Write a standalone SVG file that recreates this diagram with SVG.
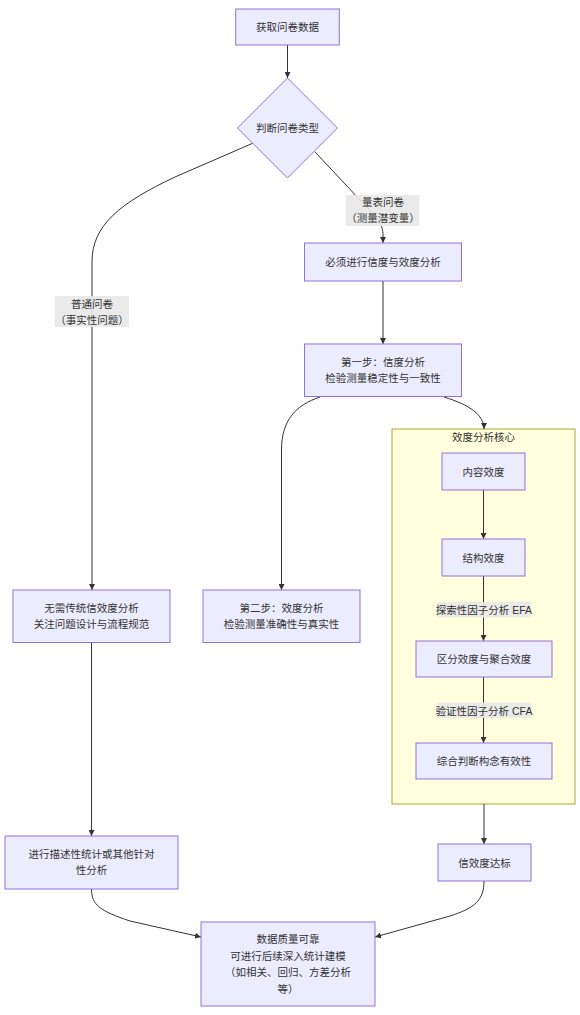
<svg xmlns="http://www.w3.org/2000/svg" width="580" height="1015" viewBox="0 0 580 1015">
<style>
text{font-family:"Liberation Sans","Noto Sans CJK SC",sans-serif;font-size:10.5px;fill:#333;text-anchor:middle;dominant-baseline:central}
.n{fill:#ECECFF;stroke:#9370DB;stroke-width:1}
.c{fill:#ffffde;stroke:#aaaa33;stroke-width:1}
.e{fill:none;stroke:#333;stroke-width:1}
.lb{fill:#e8e8e8;fill-opacity:0.9}
</style>
<defs>
<marker id="ah" viewBox="0 0 10 10" refX="10" refY="5" markerWidth="6" markerHeight="6" markerUnits="userSpaceOnUse" orient="auto">
<path d="M0,0 L10,5 L0,10 z" fill="#333"/>
</marker>
</defs>
<rect x="0" y="0" width="580" height="1015" fill="#fff"/>
<g id="cluster">
<rect class="c" x="392" y="429" width="183" height="375"/>
<text x="483.5" y="437">效度分析核心</text>
</g>
<g id="connectors">
<path class="e" d="M287.5,45 L287.5,78" marker-end="url(#ah)"/>
<path class="e" d="M252.6,143.3 L175,177 C120,203 92,225 92,262 L92,590" marker-end="url(#ah)"/>
<path class="e" d="M314.8,151.7 L360,200 C378,218 383,225 383,235 L383,243" marker-end="url(#ah)"/>
<path class="e" d="M383,281 L383,344" marker-end="url(#ah)"/>
<path class="e" d="M320,397 C296,405 281.5,420 281.5,450 L281.5,590" marker-end="url(#ah)"/>
<path class="e" d="M444,397 C470,405 484,415 484,429" marker-end="url(#ah)"/>
<path class="e" d="M483.5,490 L483.5,539" marker-end="url(#ah)"/>
<path class="e" d="M483.5,576 L483.5,641" marker-end="url(#ah)"/>
<path class="e" d="M483.5,677 L483.5,743" marker-end="url(#ah)"/>
<path class="e" d="M484,804 L484,844" marker-end="url(#ah)"/>
<path class="e" d="M91.5,642 L91.5,836" marker-end="url(#ah)"/>
<path class="e" d="M91.5,889 C91.5,905 100,911 130,921 L201,937" marker-end="url(#ah)"/>
<path class="e" d="M484,881 C484,900 475,908 450,916 L375,937" marker-end="url(#ah)"/>
<g id="edge-labels">
<rect class="lb" x="54.5" y="296" width="74.5" height="31"/>
<text x="92" y="303.5">普通问卷</text>
<text x="92" y="319.5">（事实性问题）</text>
<rect class="lb" x="346" y="195" width="73.5" height="31"/>
<text x="383" y="202">量表问卷</text>
<text x="383" y="218">（测量潜变量）</text>
<rect class="lb" x="437" y="602" width="94" height="15.5"/>
<text x="484" y="610">探索性因子分析 EFA</text>
<rect class="lb" x="437" y="702.5" width="94" height="15.5"/>
<text x="484" y="710.5">验证性因子分析 CFA</text>
</g>
</g>
<g id="n1"><rect class="n" x="235.7" y="9" width="103.6" height="36"/><text x="287.5" y="27">获取问卷数据</text></g>
<g id="n2"><polygon class="n" points="287.5,78 337.5,128 287.5,178 237.5,128"/><text x="287.5" y="128">判断问卷类型</text></g>
<g id="n3"><rect class="n" x="304.5" y="243" width="157" height="38"/><text x="383" y="262">必须进行信度与效度分析</text></g>
<g id="n4"><rect class="n" x="304.5" y="344" width="157" height="52.5"/><text x="383" y="362">第一步：信度分析</text><text x="383" y="378">检验测量稳定性与一致性</text></g>
<g id="n5"><rect class="n" x="203" y="590" width="157" height="52.5"/><text x="281.5" y="608">第二步：效度分析</text><text x="281.5" y="624">检验测量准确性与真实性</text></g>
<g id="n6"><rect class="n" x="13" y="590" width="157" height="52.5"/><text x="91.5" y="608">无需传统信效度分析</text><text x="91.5" y="624">关注问题设计与流程规范</text></g>
<g id="n7"><rect class="n" x="442" y="453" width="83" height="37"/><text x="483.5" y="471.5">内容效度</text></g>
<g id="n8"><rect class="n" x="442" y="539" width="83" height="37"/><text x="483.5" y="557.5">结构效度</text></g>
<g id="n9"><rect class="n" x="416" y="641" width="136" height="36"/><text x="484" y="659">区分效度与聚合效度</text></g>
<g id="n10"><rect class="n" x="416" y="743" width="136" height="36"/><text x="484" y="761">综合判断构念有效性</text></g>
<g id="n11"><rect class="n" x="438" y="844" width="93" height="37"/><text x="484.5" y="862.5">信效度达标</text></g>
<g id="n12"><rect class="n" x="5" y="836" width="173" height="53"/><text x="91.5" y="854">进行描述性统计或其他针对</text><text x="91.5" y="870">性分析</text></g>
<g id="n13"><rect class="n" x="201" y="922" width="174" height="84"/><text x="288" y="939">数据质量可靠</text><text x="288" y="955.5">可进行后续深入统计建模</text><text x="288" y="972">（如相关、回归、方差分析</text><text x="288" y="988.5">等）</text></g>
</svg>
